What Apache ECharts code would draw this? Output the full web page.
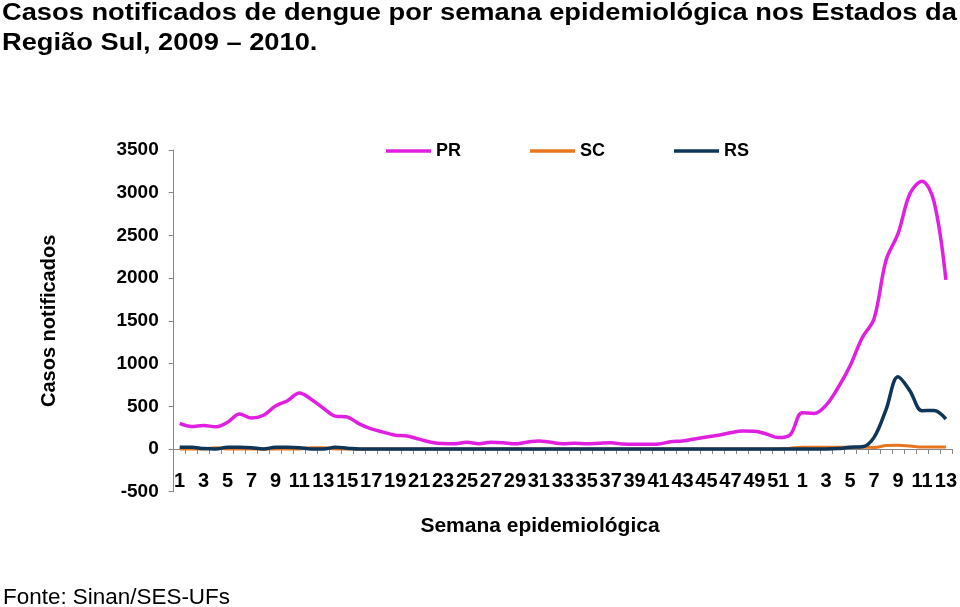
<!DOCTYPE html>
<html>
<head>
<meta charset="utf-8">
<script src="https://cdn.jsdelivr.net/npm/echarts@6/dist/echarts.min.js"></script>
<style>
html,body{margin:0;padding:0;background:#fff;}
#c{width:960px;height:607px;}
</style>
</head>
<body>
<div id="c"></div>
<script>
const semanas = ['1','2','3','4','5','6','7','8','9','10','11','12','13','14','15','16','17','18','19','20','21','22','23','24','25','26','27','28','29','30','31','32','33','34','35','36','37','38','39','40','41','42','43','44','45','46','47','48','49','50','51','52','1','2','3','4','5','6','7','8','9','10','11','12','13'];
const PR = [300,263,276,259,313,410,362,395,502,565,655,580,477,385,374,294,235,197,162,151,115,80,64,62,80,62,78,74,60,80,93,78,62,68,62,68,74,58,54,54,58,85,93,117,140,161,190,210,208,176,134,167,425,415,514,720,975,1300,1525,2210,2520,2990,3135,2900,1979];
const SC = [0,0,0,15,0,0,0,0,0,0,0,15,15,0,0,0,0,0,0,0,0,0,0,0,0,0,0,0,0,0,0,0,0,0,0,0,0,0,0,0,0,0,0,0,0,0,0,0,0,0,0,10,20,20,20,20,20,20,18,40,45,35,22,22,22];
const RS = [20,20,5,0,20,20,15,0,20,20,15,0,0,20,10,0,0,0,0,0,0,0,0,0,0,0,0,0,0,0,0,0,0,0,0,0,0,0,0,0,0,0,0,0,0,0,0,0,0,0,0,0,0,0,0,5,20,25,136,460,845,680,448,451,351];
const yMin = -500, yMax = 3500, yStep = 500;

const FONT = "'Liberation Sans', Arial, sans-serif";
const chart = echarts.init(document.getElementById('c'), null, {renderer:'canvas'});
const lineSeries = (name, data, color, w) => ({
  name, type:'line', data, smooth:0.35, symbol:'none',
  lineStyle:{color, width:w}, itemStyle:{color}
});
chart.setOption({
  animation:false,
  backgroundColor:'#ffffff',
  textStyle:{fontFamily:FONT},
  grid:{left:173.7, right:6.3, top:150, bottom:115.3, containLabel:false},
  legend:{
    left:381, top:137, icon:'rect', itemWidth:45, itemHeight:3.5, itemGap:69,
    textStyle:{fontSize:18, fontWeight:'bold', color:'#000', fontFamily:FONT},
    data:['PR','SC','RS']
  },
  xAxis:{
    type:'category', data:semanas, boundaryGap:true,
    axisLine:{onZero:true, lineStyle:{color:'#868686', width:1}},
    axisTick:{show:true, interval:0, length:5, lineStyle:{color:'#868686'}},
    axisLabel:{interval:1, margin:-20, fontSize:20, fontWeight:'bold', color:'#000', fontFamily:FONT},
    splitLine:{show:false}
  },
  yAxis:{
    type:'value', min:yMin, max:yMax, interval:yStep,
    name:'Casos notificados', nameLocation:'middle', nameRotate:90, nameGap:114,
    nameTextStyle:{fontSize:20, fontWeight:'bold', color:'#000', fontFamily:FONT},
    axisLine:{show:true, lineStyle:{color:'#868686', width:1}},
    axisTick:{show:true, length:5, lineStyle:{color:'#868686'}},
    axisLabel:{margin:15, fontSize:19, fontWeight:'bold', color:'#000', fontFamily:FONT, formatter:(v)=>String(v)},
    splitLine:{show:false}
  },
  graphic:[
    {type:'text', x:2, y:13.5, scaleX:1.186, style:{text:'Casos notificados de dengue por semana epidemiológica nos Estados da', x:0, y:0, verticalAlign:'middle', font:"bold 23px 'Liberation Sans', Arial, sans-serif", fill:'#000'}},
    {type:'text', x:2, y:43.5, scaleX:1.186, style:{text:'Região Sul, 2009 – 2010.', x:0, y:0, verticalAlign:'middle', font:"bold 23px 'Liberation Sans', Arial, sans-serif", fill:'#000'}},
    {type:'text', x:540, y:526, style:{text:'Semana epidemiológica', x:0, y:0, align:'center', verticalAlign:'middle', font:"bold 21px 'Liberation Sans', Arial, sans-serif", fill:'#000'}},
    {type:'text', x:3, y:598, scaleX:1.02, style:{text:'Fonte: Sinan/SES-UFs', x:0, y:0, verticalAlign:'middle', font:"22px 'Liberation Sans', Arial, sans-serif", fill:'#000'}}
  ],
  series:[
    lineSeries('PR', PR, '#E01FE0', 3.5),
    lineSeries('SC', SC, '#E8761E', 3),
    lineSeries('RS', RS, '#0F3558', 3.5)
  ]
});
</script>
</body>
</html>
